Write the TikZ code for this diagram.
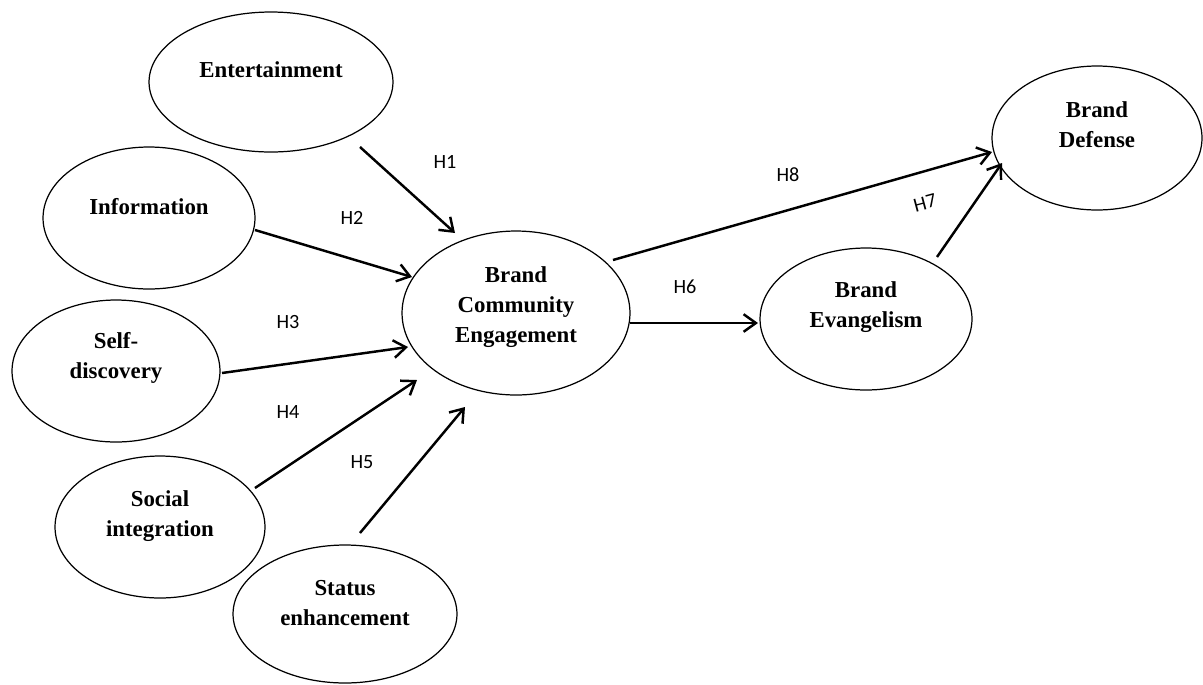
\documentclass[tikz,border=0pt]{standalone}
\usepackage{fontspec}
\setmainfont{Liberation Serif}
\newfontfamily\hfont{Carlito}
\usetikzlibrary{calc,arrows.meta,shapes.geometric}
\begin{document}
\begin{tikzpicture}[x=0.02cm,y=-0.02cm,
  construct/.style={draw, ellipse, line width=0.7pt, inner sep=0pt},
  ctext/.style={font=\fontsize{13}{17}\selectfont\bfseries, align=center, inner sep=0pt},
  hyp/.style={font=\hfont\fontsize{11.5}{14}\selectfont, inner sep=0pt},
  arr/.style={line width=1.4pt, -{Straight Barb[length=7pt,width=10pt]}}]
\fill[white] (0,0) rectangle (1203,684);
\useasboundingbox (0,0) rectangle (1203,684);

% constructs
\node[construct, minimum width=4.88cm, minimum height=2.80cm] (ent)  at (271,82)  {};
\node[construct, minimum width=4.24cm, minimum height=2.84cm] (info) at (149,218) {};
\node[construct, minimum width=4.16cm, minimum height=2.84cm] (self) at (116,371) {};
\node[construct, minimum width=4.20cm, minimum height=2.84cm] (soc)  at (160,527) {};
\node[construct, minimum width=4.48cm, minimum height=2.76cm] (stat) at (345,614) {};
\node[construct, minimum width=4.56cm, minimum height=3.28cm] (bce)  at (516,313) {};
\node[construct, minimum width=4.24cm, minimum height=2.84cm] (be)   at (866,319) {};
\node[construct, minimum width=4.20cm, minimum height=2.88cm] (bd)   at (1097,138) {};

% construct texts
\node[ctext] (entT)  at ($(ent.center)+(0,-12)$)  {Entertainment};
\node[ctext] (infoT) at ($(info.center)+(0,-11)$) {Information};
\node[ctext] (selfT) at ($(self.center)+(0,-13)$) {Self-\\discovery};
\node[ctext] (socT)  at ($(soc.center)+(0,-11)$)  {Social\\integration};
\node[ctext] (statT) at ($(stat.center)+(0,-11)$) {Status\\enhancement};
\node[ctext] (bceT)  at ($(bce.center)+(0,-6)$)   {Brand\\Community\\Engagement};
\node[ctext] (beT)   at ($(be.center)+(0,-12)$)   {Brand\\Evangelism};
\node[ctext] (bdT)   at ($(bd.center)+(0,-13)$)   {Brand\\Defense};

% connectors
\draw[arr] ($(ent.center)+(89,65)$)   -- ($(bce.center)+(-61,-80)$);
\draw[arr] ($(info.center)+(106,12)$) -- ($(bce.center)+(-104,-36)$);
\draw[arr] ($(self.center)+(106,2)$)  -- ($(bce.center)+(-108,34)$);
\draw[arr] ($(soc.center)+(95,-39)$)  -- ($(bce.center)+(-99,67)$);
\draw[arr] ($(stat.center)+(15,-81)$) -- ($(bce.center)+(-51,94)$);
\draw[arr] ($(bce.center)+(114,10)$)  -- ($(be.center)+(-108,4)$);
\draw[arr] ($(bce.center)+(97,-53)$)  -- ($(bd.center)+(-105,14)$);
\draw[arr] ($(be.center)+(71,-62)$)   -- ($(bd.center)+(-95,25)$);

% hypothesis labels
\node[hyp] (h1) at (445,162) {H1};
\node[hyp] (h2) at (352,218) {H2};
\node[hyp] (h3) at (288,322) {H3};
\node[hyp] (h4) at (288,412) {H4};
\node[hyp] (h5) at (362,462) {H5};
\node[hyp] (h6) at (685,287) {H6};
\node[hyp] (h8) at (788,175) {H8};
\node[hyp, rotate=15] (h7) at (925,203) {H7};
\end{tikzpicture}
\end{document}
